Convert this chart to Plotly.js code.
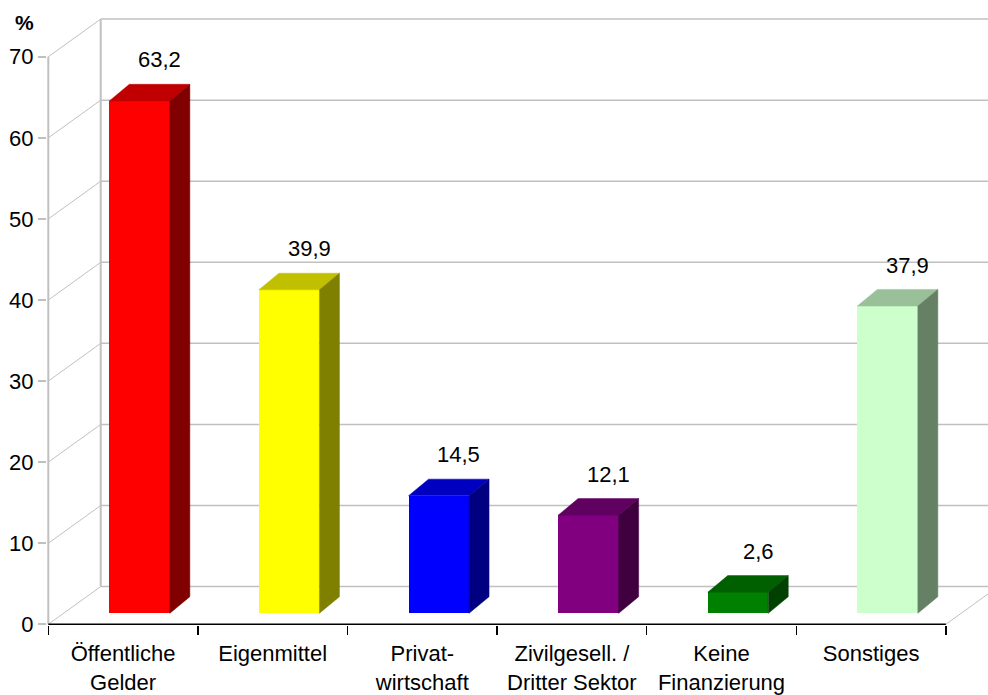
<!DOCTYPE html>
<html>
<head>
<meta charset="utf-8">
<script src="https://cdn.plot.ly/plotly-3.0.1.min.js"></script>
<style>html,body{margin:0;padding:0;background:#fff;}#chart{width:988px;height:695px;}</style>
</head>
<body>
<div id="chart"></div>
<script>
// ---- data ----
const categories = ['Öffentliche<br>Gelder', 'Eigenmittel', 'Privat-<br>wirtschaft', 'Zivilgesell. /<br>Dritter Sektor', 'Keine<br>Finanzierung', 'Sonstiges'];
const values = [63.2, 39.9, 14.5, 12.1, 2.6, 37.9];
const yTicks = [0, 10, 20, 30, 40, 50, 60, 70];
const yUnit = '%';

// ---- styles ----
const frontColors = ['#FF0000', '#FFFF00', '#0000FF', '#800080', '#008000', '#CCFFCC'];
const topColors   = ['#C00000', '#C0C000', '#0000C0', '#600060', '#006000', '#99C099'];
const sideColors  = ['#800000', '#808000', '#000080', '#400040', '#004000', '#668066'];
const FONT = 'Liberation Sans, Arial, sans-serif';
const GRID = '#C0C0C0';

// geometry (pixel -> axis units)
const KX = 149.6, KY = 8.1075;
const WALL_DX = 52.4 / KX, WALL_DY = 37.7 / KY;
const BAR_OFF_X = 16.5 / KX, BAR_OFF_Y = 11 / KY;
const BAR_DX = 20 / KX, BAR_DY = 16.6 / KY;
const BAR_W = 60.5 / KX;
const yMax = yTicks[yTicks.length - 1];
const nCat = categories.length;
const idx = categories.map((_, i) => i);

const xRange = [-0.5 - 1.3 / KX, -0.5 - 1.3 / KX + 941 / KX];
const yRange = [-0.7 / KY, -0.7 / KY + 609 / KY];

const traces = [];
// front faces
traces.push({
  type: 'bar', x: idx.map(i => i + BAR_OFF_X), y: values, base: BAR_OFF_Y,
  width: BAR_W, marker: {color: frontColors, line: {width: 0}},
  hoverinfo: 'skip', showlegend: false
});
// top and side faces
values.forEach((v, i) => {
  const x0 = i + BAR_OFF_X - BAR_W / 2, x1 = x0 + BAR_W;
  const b = BAR_OFF_Y, t = BAR_OFF_Y + v;
  traces.push({
    type: 'scatter', mode: 'lines', fill: 'toself', fillcolor: topColors[i],
    x: [x0, x1, x1 + BAR_DX, x0 + BAR_DX, x0], y: [t, t, t + BAR_DY, t + BAR_DY, t],
    line: {color: topColors[i], width: 0.5}, hoverinfo: 'skip', showlegend: false
  });
  traces.push({
    type: 'scatter', mode: 'lines', fill: 'toself', fillcolor: sideColors[i],
    x: [x1, x1 + BAR_DX, x1 + BAR_DX, x1, x1], y: [b, b + BAR_DY, t + BAR_DY, t, b],
    line: {color: sideColors[i], width: 0.5}, hoverinfo: 'skip', showlegend: false
  });
});
// front floor edge (on x2 so the boundary tick axis is drawn)
traces.push({
  type: 'scatter', mode: 'lines', xaxis: 'x2', yaxis: 'y',
  x: [-0.5, nCat - 0.5], y: [0, 0], line: {color: '#000', width: 1.5},
  hoverinfo: 'skip', showlegend: false
});

// walls / grid as shapes below traces
const shapes = [];
const bx = -0.5 + WALL_DX;
shapes.push({type: 'line', layer: 'below', xref: 'x', yref: 'y', x0: -0.5, x1: -0.5, y0: 0, y1: yMax, line: {color: GRID, width: 2}});
shapes.push({type: 'line', layer: 'below', xref: 'x', yref: 'y', x0: bx, x1: bx, y0: WALL_DY, y1: yMax + WALL_DY, line: {color: GRID, width: 2}});
yTicks.forEach(t => {
  shapes.push({type: 'line', layer: 'below', xref: 'x', yref: 'y', x0: bx, x1: nCat + 1, y0: t + WALL_DY, y1: t + WALL_DY, line: {color: GRID, width: 1.5}});
  shapes.push({type: 'line', layer: 'below', xref: 'x', yref: 'y', x0: -0.5, x1: bx, y0: t, y1: t + WALL_DY, line: {color: GRID, width: 1}});
});
shapes.push({type: 'line', layer: 'below', xref: 'x', yref: 'y', x0: nCat - 0.5, x1: nCat - 0.5 + WALL_DX, y0: 0, y1: WALL_DY, line: {color: GRID, width: 1}});

// value labels
const annotations = values.map((v, i) => ({
  xref: 'x', yref: 'y', x: i + BAR_OFF_X + BAR_DX, y: v, yshift: 52,
  text: v.toFixed(1).replace('.', ','), showarrow: false,
  font: {family: FONT, size: 22, color: '#000'}, xanchor: 'center', yanchor: 'middle'
}));
annotations.push({
  xref: 'paper', yref: 'y', x: (24.7 - 47) / 941, y: (624.3 - 22) / KY,
  text: '<b>' + yUnit + '</b>', showarrow: false, xanchor: 'center', yanchor: 'middle',
  font: {family: FONT, size: 21, color: '#000'}
});

const layout = {
  width: 988, height: 695,
  margin: {l: 47, r: 0, t: 16, b: 70, pad: 0},
  paper_bgcolor: '#fff', plot_bgcolor: '#fff',
  showlegend: false,
  font: {family: FONT, size: 22, color: '#000'},
  xaxis: {
    range: xRange, tickvals: idx, ticktext: categories, ticks: '',
    ticklabelstandoff: 13,
    showgrid: false, zeroline: false, showline: false, fixedrange: true,
    tickfont: {family: FONT, size: 22, color: '#000'}
  },
  xaxis2: {
    overlaying: 'x', anchor: 'y', side: 'bottom', range: xRange,
    tickvals: idx.concat([nCat]).map(i => i - 0.5), showticklabels: false,
    ticks: 'outside', ticklen: 9, tickwidth: 1.5, tickcolor: '#000',
    showgrid: false, zeroline: false, showline: false
  },
  yaxis: {
    range: yRange, tickvals: yTicks, ticktext: yTicks.map(String), ticks: 'outside',
    ticklen: 8, tickwidth: 2, tickcolor: GRID, showgrid: false, zeroline: false,
    showline: false, tickfont: {family: FONT, size: 22, color: '#000'}
  },
  shapes: shapes,
  annotations: annotations,
  bargap: 0
};

Plotly.newPlot('chart', traces, layout, {staticPlot: true, displayModeBar: false});
</script>
</body>
</html>
